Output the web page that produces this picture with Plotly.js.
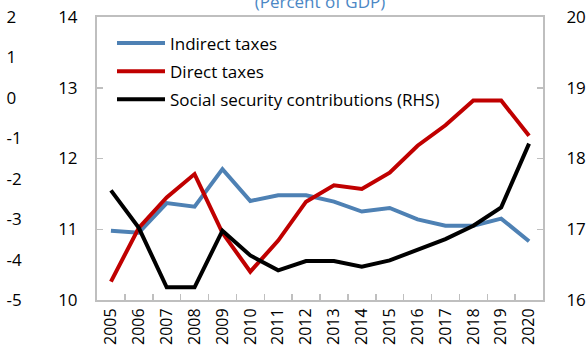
<!DOCTYPE html>
<html>
<head>
<meta charset="utf-8">
<script src="https://cdn.plot.ly/plotly-3.0.1.min.js"></script>
<style>html,body{margin:0;padding:0;background:#fff;}#chart{width:587px;height:354px;}</style>
</head>
<body>
<div id="chart"></div>
<script>
const years = ["2005","2006","2007","2008","2009","2010","2011","2012","2013","2014","2015","2016","2017","2018","2019","2020"];
const indirectTaxes = [10.98, 10.95, 11.37, 11.32, 11.85, 11.40, 11.48, 11.48, 11.39, 11.25, 11.30, 11.14, 11.05, 11.05, 11.15, 10.83];
const directTaxes = [10.26, 11.02, 11.45, 11.78, 10.95, 10.40, 10.84, 11.39, 11.62, 11.57, 11.80, 12.18, 12.47, 12.82, 12.82, 12.32];
const socialSecurity = [17.55, 17.02, 16.18, 16.18, 16.98, 16.63, 16.42, 16.55, 16.55, 16.47, 16.56, 16.71, 16.86, 17.05, 17.31, 18.21];
const seriesNames = ["Indirect taxes", "Direct taxes", "Social security contributions (RHS)"];
const chartTitle = "(Percent of GDP)";
const outerTickVals = [-5, -4, -3, -2, -1, 0, 1, 2];
const outerTickText = ["-5", "-4", "-3", "-2", "-1", "0", "1", "2"];

const FONT = "Open Sans, Noto Sans, sans-serif";
const AX = "#bfbfbf";

const traces = [
  {x: years, y: indirectTaxes, name: seriesNames[0], legendgroup: "a", type: "scatter", mode: "lines",
   line: {color: "#4e81b4", width: 4}, yaxis: "y"},
  {x: years, y: directTaxes, name: seriesNames[1], legendgroup: "b", type: "scatter", mode: "lines",
   line: {color: "#c00000", width: 4}, yaxis: "y"},
  {x: years, y: socialSecurity, name: seriesNames[2], legendgroup: "c", type: "scatter", mode: "lines",
   line: {color: "#000000", width: 4}, yaxis: "y2"},
  {x: [], y: [], type: "scatter", mode: "lines", yaxis: "y3", showlegend: false, hoverinfo: "skip"}
];

const layout = {
  width: 587, height: 354,
  margin: {l: 0, r: 44, t: 17, b: 54, pad: 0},
  paper_bgcolor: "#fff", plot_bgcolor: "#fff",
  font: {family: FONT, size: 16, color: "#000"},
  showlegend: true,
  title: {text: chartTitle, x: 320/587, xanchor: "center", y: 1 - 2/354, yanchor: "middle",
          font: {family: FONT, size: 17, color: "#4b87c5"}},
  legend: {x: 112/543, xanchor: "left", y: 0.97, yanchor: "top", bgcolor: "rgba(0,0,0,0)",
           font: {family: FONT, size: 17, color: "#000"}, itemwidth: 48, tracegroupgap: 3},
  xaxis: {domain: [97/543, 1], type: "category", range: [-0.5, 15.5],
          tickson: "boundaries", ticks: "inside", ticklen: 6, tickwidth: 1.5, tickcolor: AX,
          tickangle: -90, showline: true, linecolor: AX, linewidth: 2, mirror: true,
          showgrid: false, zeroline: false, tickfont: {family: FONT, size: 16}},
  yaxis: {range: [10, 14], dtick: 1, ticks: "inside", ticklen: 6, tickwidth: 1.5, tickcolor: AX,
          showline: true, linecolor: AX, linewidth: 2, showgrid: false, zeroline: false,
          ticklabelstandoff: 14, tickfont: {family: FONT, size: 17}},
  yaxis2: {range: [16, 20], dtick: 1, overlaying: "y", side: "right", anchor: "x",
           ticks: "inside", ticklen: 6, tickwidth: 1.5, tickcolor: AX,
           showline: true, linecolor: AX, linewidth: 2, showgrid: false, zeroline: false,
           ticklabelstandoff: 18, tickfont: {family: FONT, size: 17}},
  yaxis3: {range: [-5, 2], tickmode: "array", tickvals: outerTickVals, ticktext: outerTickText,
           overlaying: "y", side: "right", anchor: "free", position: 0.01,
           ticks: "", showline: false, showgrid: false, zeroline: false,
           tickfont: {family: FONT, size: 17}}
};

Plotly.newPlot("chart", traces, layout, {displayModeBar: false, staticPlot: true});
</script>
</body>
</html>
